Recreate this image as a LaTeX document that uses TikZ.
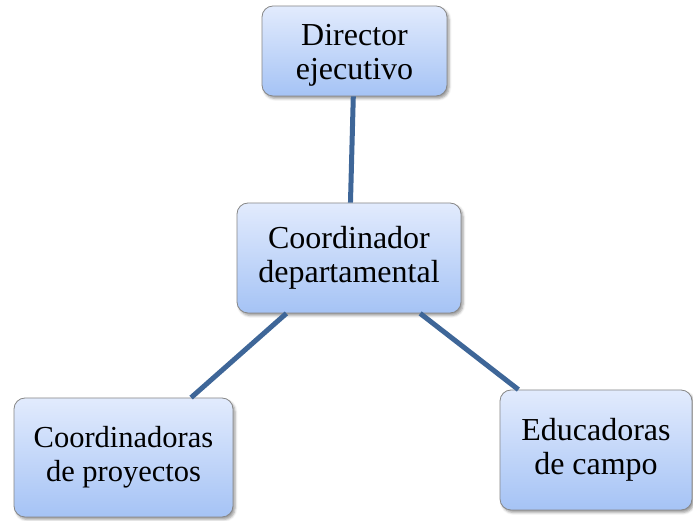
\documentclass[tikz,border=0pt]{standalone}
\usepackage{fontspec}
\setmainfont{Liberation Serif}
\usetikzlibrary{shadows.blur}

\definecolor{boxtop}{RGB}{226,235,253}
\definecolor{boxbottom}{RGB}{165,195,245}
\definecolor{boxline}{RGB}{135,135,135}
\definecolor{linkblue}{RGB}{62,102,152}

\begin{document}
\begin{tikzpicture}[x=1pt,y=1pt,
    puesto/.style={draw=boxline, line width=0.8pt, rounded corners=11pt,
      top color=boxtop, bottom color=boxbottom, align=center, inner sep=0pt,
      font=\fontsize{32}{34}\selectfont,
      blur shadow={shadow xshift=2pt, shadow yshift=-2.5pt, shadow blur radius=2.5pt}},
    enlace/.style={draw=linkblue, line width=5pt}]
  \useasboundingbox (0,0) rectangle (693,521);
  % puestos
  \node[puesto, minimum width=185pt, minimum height=90pt] (director) at (354.5,470) {};
  \node[font=\fontsize{32}{34}\selectfont, align=center, inner sep=0pt] (directortxt) at ([yshift=-4pt]director.center) {Director\\ejecutivo};
  \node[puesto, minimum width=224pt, minimum height=110pt] (coordinador) at (349,263) {Coordinador\\departamental};
  \node[puesto, minimum width=219pt, minimum height=119pt, font=\fontsize{30.5}{34}\selectfont] (proyectos) at (123.5,63.5) {Coordinadoras\\de proyectos};
  \node[puesto, minimum width=192pt, minimum height=120pt] (educadoras) at (596,71) {Educadoras\\de campo};
  % enlaces
  \draw[enlace] (director) -- (coordinador);
  \draw[enlace] (coordinador) -- (proyectos);
  \draw[enlace] (coordinador) -- (educadoras);
\end{tikzpicture}
\end{document}
